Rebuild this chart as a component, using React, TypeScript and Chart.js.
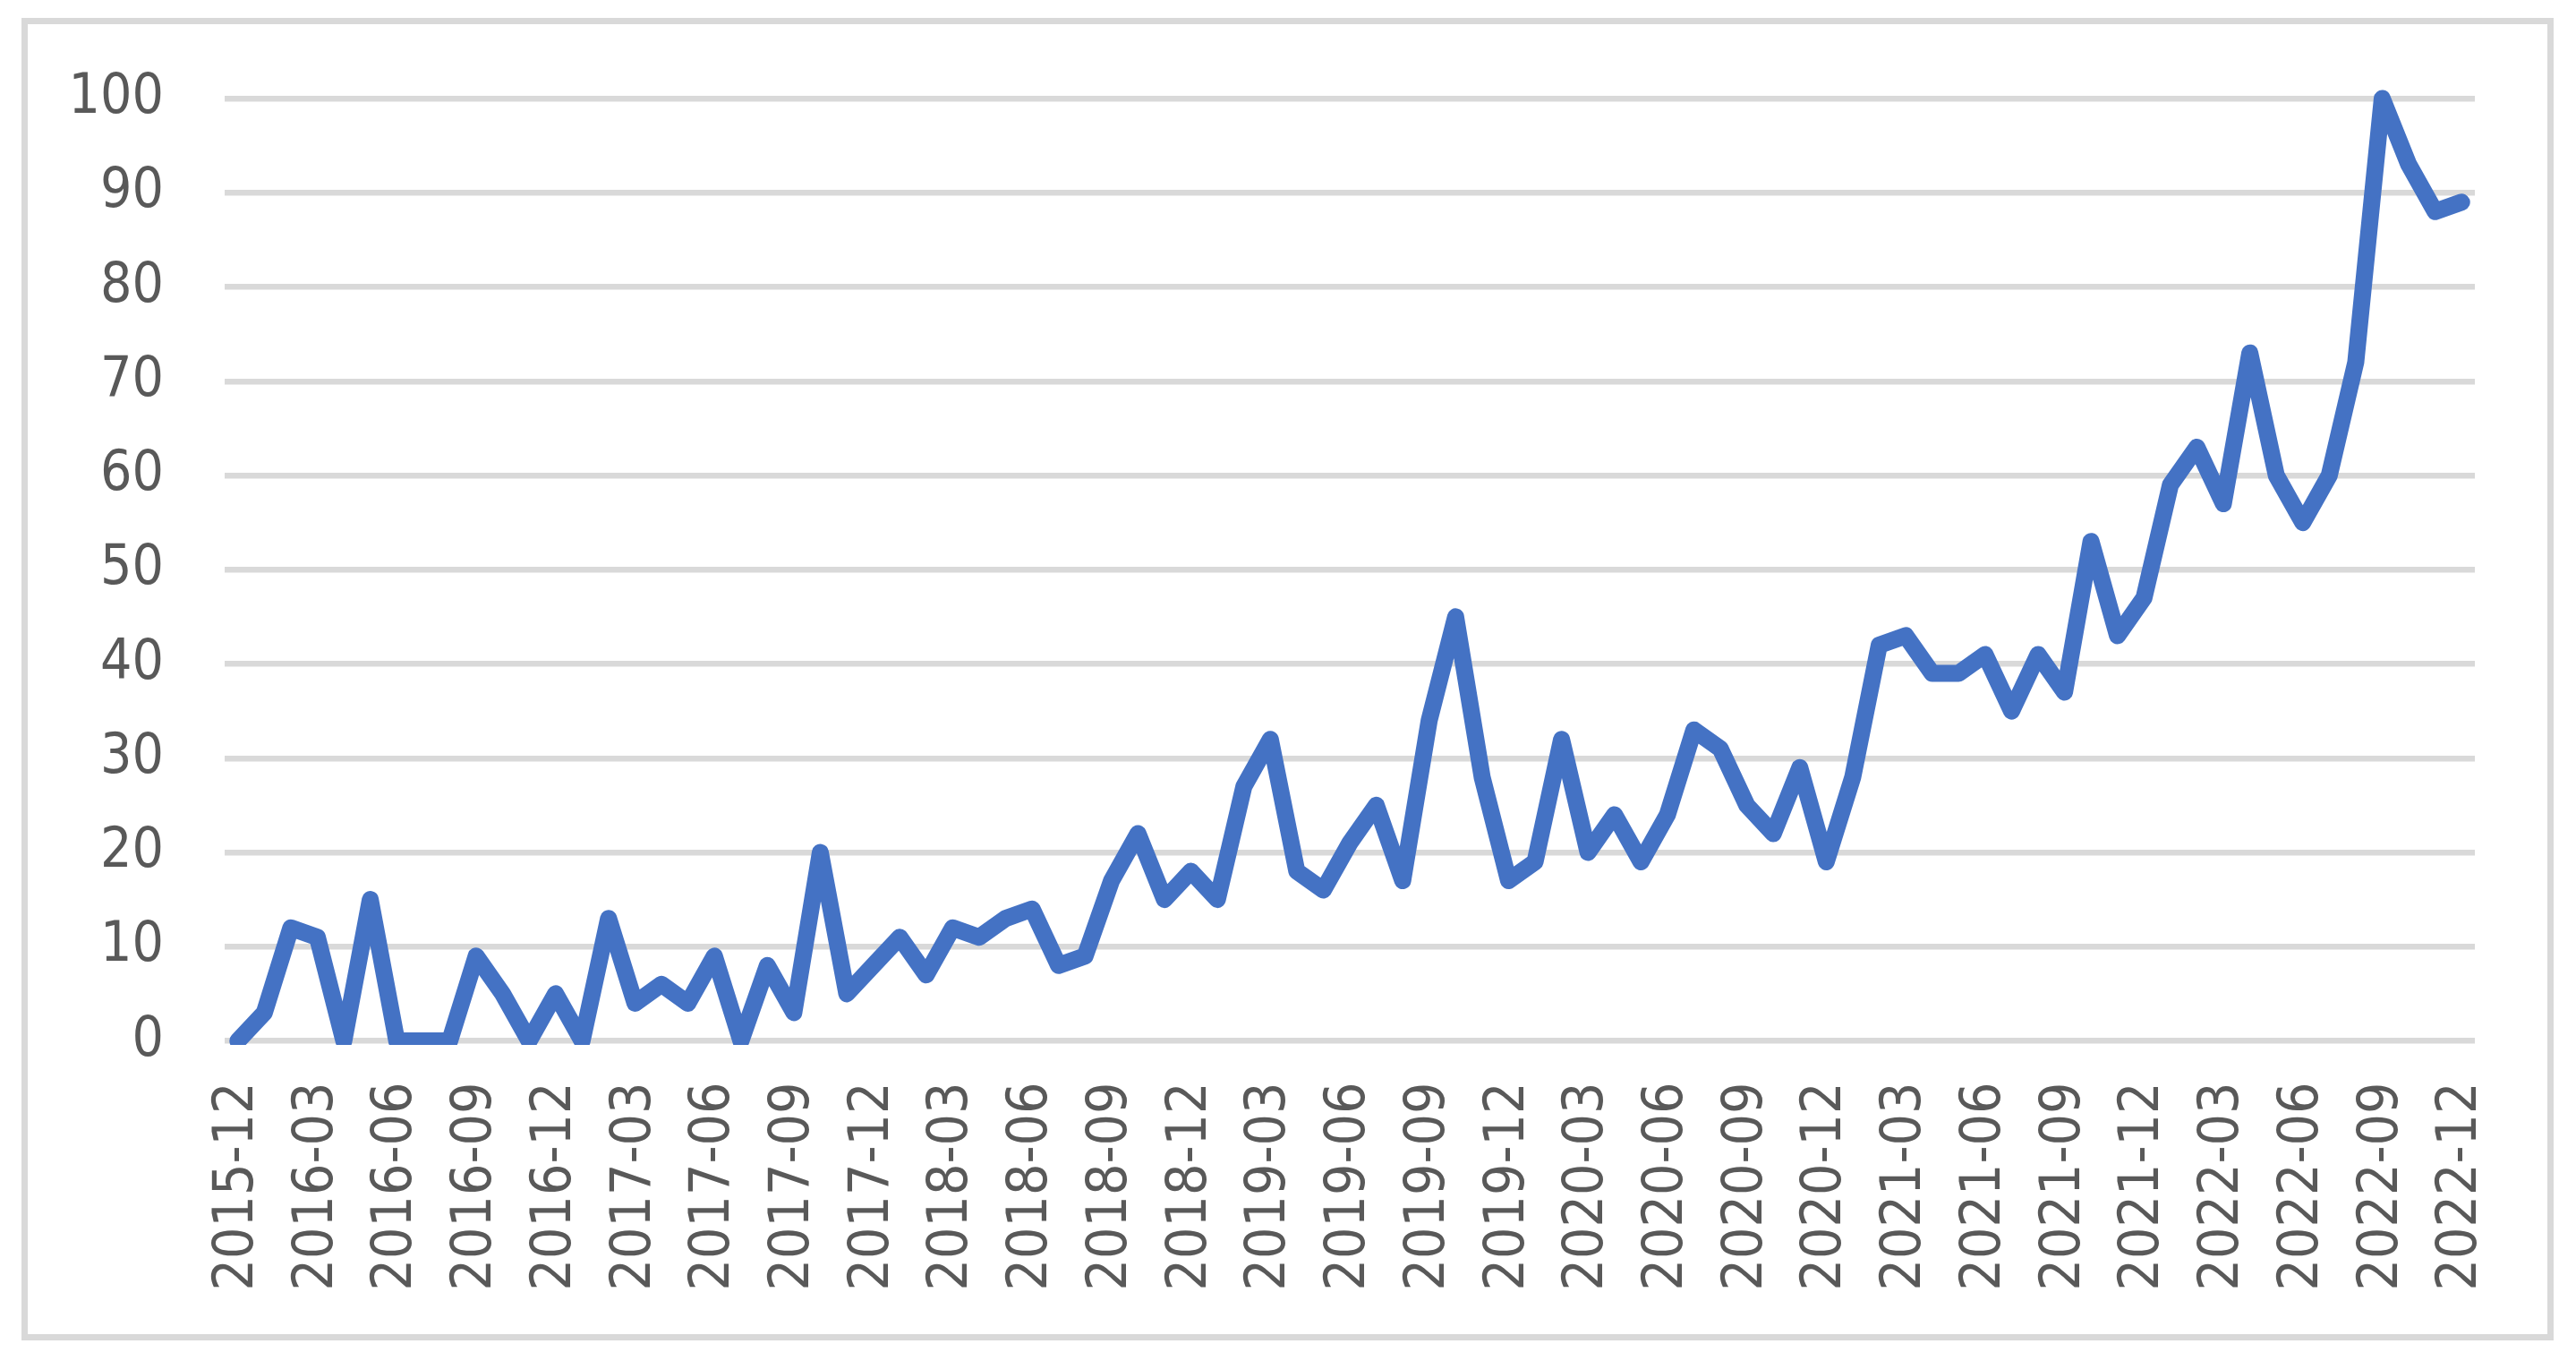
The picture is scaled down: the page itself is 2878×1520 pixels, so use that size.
import React, { useEffect, useRef } from "react";
import { Chart, registerables } from "chart.js";

Chart.register(...registerables);

const months: string[] = [
  "2015-12",
  "2016-01", "2016-02", "2016-03", "2016-04", "2016-05", "2016-06",
  "2016-07", "2016-08", "2016-09", "2016-10", "2016-11", "2016-12",
  "2017-01", "2017-02", "2017-03", "2017-04", "2017-05", "2017-06",
  "2017-07", "2017-08", "2017-09", "2017-10", "2017-11", "2017-12",
  "2018-01", "2018-02", "2018-03", "2018-04", "2018-05", "2018-06",
  "2018-07", "2018-08", "2018-09", "2018-10", "2018-11", "2018-12",
  "2019-01", "2019-02", "2019-03", "2019-04", "2019-05", "2019-06",
  "2019-07", "2019-08", "2019-09", "2019-10", "2019-11", "2019-12",
  "2020-01", "2020-02", "2020-03", "2020-04", "2020-05", "2020-06",
  "2020-07", "2020-08", "2020-09", "2020-10", "2020-11", "2020-12",
  "2021-01", "2021-02", "2021-03", "2021-04", "2021-05", "2021-06",
  "2021-07", "2021-08", "2021-09", "2021-10", "2021-11", "2021-12",
  "2022-01", "2022-02", "2022-03", "2022-04", "2022-05", "2022-06",
  "2022-07", "2022-08", "2022-09", "2022-10", "2022-11", "2022-12",
];

const values: number[] = [
  0,
  3, 12, 11, 0, 15, 0,
  0, 0, 9, 5, 0, 5,
  0, 13, 4, 6, 4, 9,
  0, 8, 3, 20, 5, 8,
  11, 7, 12, 11, 13, 14,
  8, 9, 17, 22, 15, 18,
  15, 27, 32, 18, 16, 21,
  25, 17, 34, 45, 28, 17,
  19, 32, 20, 24, 19, 24,
  33, 31, 25, 22, 29, 19,
  28, 42, 43, 39, 39, 41,
  35, 41, 37, 53, 43, 47,
  59, 63, 57, 73, 60, 55,
  60, 72, 100, 93, 88, 89,
];

const shownTickLabels: string[] = [
  "2015-12", "2016-03", "2016-06", "2016-09", "2016-12",
  "2017-03", "2017-06", "2017-09", "2017-12",
  "2018-03", "2018-06", "2018-09", "2018-12",
  "2019-03", "2019-06", "2019-09", "2019-12",
  "2020-03", "2020-06", "2020-09", "2020-12",
  "2021-03", "2021-06", "2021-09", "2021-12",
  "2022-03", "2022-06", "2022-09", "2022-12",
];

const yMin = 0;
const yMax = 100;
const yStep = 10;

const FONT = '"DejaVu Sans Condensed", "DejaVu Sans", sans-serif';
const TEXT = "#595959";
const GRID = "#d9d9d9";
const LINE = "#4472C4";

export default function App() {
  const ref = useRef<HTMLCanvasElement | null>(null);

  useEffect(() => {
    if (!ref.current) return;
    const chart = new Chart(ref.current, {
      type: "line",
      data: {
        labels: months,
        datasets: [
          {
            data: values,
            borderColor: LINE,
            backgroundColor: LINE,
            borderWidth: 19,
            pointRadius: 0,
            pointHoverRadius: 0,
            tension: 0,
            borderJoinStyle: "round",
            borderCapStyle: "round",
            clip: { left: 30, top: 30, right: 30, bottom: 4.5 } as any,
          },
        ],
      },
      options: {
        responsive: false,
        animation: false,
        events: [],
        layout: { padding: { left: 0, top: 110, right: 113, bottom: 7.5 } },
        plugins: {
          legend: { display: false },
          tooltip: { enabled: false },
          title: { display: false },
        },
        scales: {
          x: {
            offset: true,
            grid: { display: false, drawTicks: false },
            border: { display: false },
            afterFit: (s: any) => {
              s.height = 350;
            },
            ticks: {
              autoSkip: false,
              maxRotation: 90,
              minRotation: 90,
              padding: 46,
              color: TEXT,
              font: { family: FONT, size: 62 },
              callback: (_v: any, i: number) =>
                shownTickLabels.includes(months[i]) ? months[i] : "",
            },
          },
          y: {
            min: yMin,
            max: yMax,
            afterFit: (s: any) => {
              s.width = 251;
            },
            grid: { color: GRID, lineWidth: 6.5, drawTicks: false },
            border: { display: false },
            ticks: {
              stepSize: yStep,
              padding: 68,
              color: TEXT,
              font: { family: FONT, size: 62 },
            },
          },
        },
      },
    });
    return () => chart.destroy();
  }, []);

  return (
    <div style={{ position: "absolute", left: 0, top: 0, width: 2878, height: 1520, background: "#fff" }}>
      <div
        style={{
          position: "absolute",
          left: 24,
          top: 20,
          width: 2829,
          height: 1477,
          border: `7px solid ${GRID}`,
          boxSizing: "border-box",
        }}
      />
      <canvas
        ref={ref}
        width={2878}
        height={1520}
        style={{ position: "absolute", left: 0, top: 0, width: 2878, height: 1520 }}
      />
    </div>
  );
}
